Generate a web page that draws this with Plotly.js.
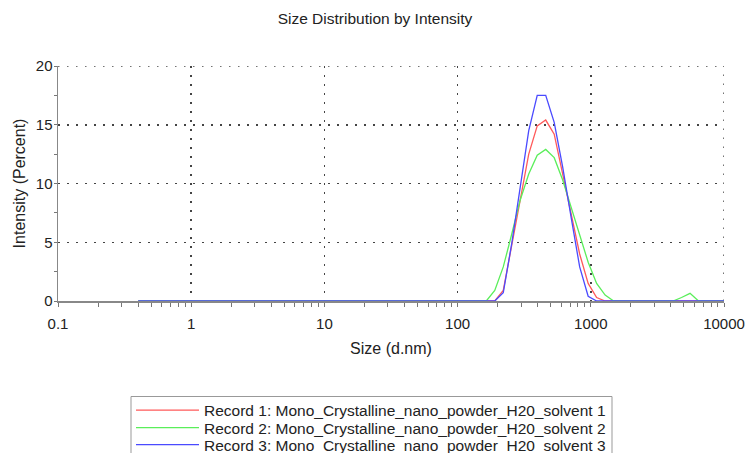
<!DOCTYPE html>
<html>
<head>
<meta charset="utf-8">
<script src="https://cdn.plot.ly/plotly-3.0.1.min.js"></script>
<style>html,body{margin:0;padding:0;background:#fff;}#chart{width:750px;height:453px;}</style>
</head>
<body>
<div id="chart"></div>
<script>
// Size bins (d.nm)
const sizeBins = [0.4, 0.4632, 0.5365, 0.6213, 0.7195, 0.8332, 0.9649, 1.117, 1.294, 1.499,
  1.736, 2.010, 2.328, 2.696, 3.122, 3.615, 4.187, 4.849, 5.615, 6.503,
  7.531, 8.721, 10.10, 11.70, 13.54, 15.69, 18.17, 21.04, 24.36, 28.21,
  32.67, 37.84, 43.82, 50.75, 58.77, 68.06, 78.82, 91.28, 105.7, 122.4,
  141.8, 164.2, 190.1, 220.2, 255.0, 295.3, 342.0, 396.1, 458.7, 531.2,
  615.1, 712.4, 825.0, 955.4, 1106, 1281, 1484, 1718, 1990, 2305,
  2669, 3091, 3580, 4145, 4801, 5560, 6439, 7456, 8635, 10000];

const record1 = [0,0,0,0,0,0,0,0,0,0, 0,0,0,0,0,0,0,0,0,0, 0,0,0,0,0,0,0,0,0,0,
  0,0,0,0,0,0,0,0,0,0, 0,0,0,0.9,4.6,8.6,12.5,14.9,15.4,14.2,
  10.8,7.4,4.0,1.5,0.3,0,0,0,0,0, 0,0,0,0,0,0,0,0,0,0];

const record2 = [0,0,0,0,0,0,0,0,0,0, 0,0,0,0,0,0,0,0,0,0, 0,0,0,0,0,0,0,0,0,0,
  0,0,0,0,0,0,0,0,0,0, 0,0,0.9,2.9,5.7,8.6,10.8,12.4,12.9,12.2,
  10.3,8.0,5.5,3.3,1.5,0.5,0,0,0,0, 0,0,0,0,0.3,0.65,0,0,0,0];

const record3 = [0,0,0,0,0,0,0,0,0,0, 0,0,0,0,0,0,0,0,0,0, 0,0,0,0,0,0,0,0,0,0,
  0,0,0,0,0,0,0,0,0,0, 0,0,0,0.7,4.9,9.7,14.5,17.5,17.5,15.2,
  11.4,7.1,2.9,0.4,0,0,0,0,0,0, 0,0,0,0,0,0,0,0,0,0];

const seriesNames = [
  "Record 1: Mono_Crystalline_nano_powder_H20_solvent 1",
  "Record 2: Mono_Crystalline_nano_powder_H20_solvent 2",
  "Record 3: Mono_Crystalline_nano_powder_H20_solvent 3"
];
const yMax = 20;
const xMax = 10000;

const colors = ["#ff5a5a", "#5aee5a", "#4a4aff"];
const seriesData = [record1, record2, record3];
const legendIds = ["legend", "legend2", "legend3"];

// pixel helpers for placing decorations (plot area 58..724 x 66..301)
const PL = 58, PR = 724, PT = 66, PB = 301;
const px2paperX = p => (p - PL) / (PR - PL);
const px2paperY = p => (PB - p) / (PB - PT);

const traces = seriesData.map((vals, i) => ({
  x: sizeBins, y: vals, type: "scatter", mode: "lines",
  name: seriesNames[i], legend: legendIds[i],
  line: {color: colors[i], width: 1.3}
}));

const font = {family: "Liberation Sans, Arial, sans-serif", color: "#222"};
const gridStyle = {color: "#444", width: 1.5, dash: "1.5px,7.5px"};
const legendRowsY = [410.5, 428, 445];
function legendAt(rowY) {
  return {x: px2paperX(131), y: px2paperY(rowY), xanchor: "left", yanchor: "middle",
    borderwidth: 0, bgcolor: "rgba(0,0,0,0)", itemwidth: 63, tracegroupgap: 0,
    font: Object.assign({}, font, {size: 15.5})};
}
const layout = {
  width: 750, height: 453,
  margin: {l: PL, r: 750 - PR, t: PT, b: 453 - PB, autoexpand: false},
  paper_bgcolor: "#fff", plot_bgcolor: "#fff",
  font: Object.assign({size: 15}, font),
  title: {text: "Size Distribution by Intensity", font: Object.assign({}, font, {size: 15.5}),
    x: 0.5, xanchor: "center", y: 1 - 19/453, yanchor: "middle", yref: "container"},
  showlegend: true,
  legend: legendAt(legendRowsY[0]),
  legend2: legendAt(legendRowsY[1]),
  legend3: legendAt(legendRowsY[2]),
  xaxis: {
    type: "log", range: [-1, 4], automargin: false, layer: "below traces",
    tickmode: "linear", tick0: 0, dtick: 1, tickformat: "~g",
    ticks: "outside", ticklen: 4, tickcolor: "#777", ticklabelstandoff: 4,
    tickfont: Object.assign({}, font, {size: 15}),
    showline: true, linecolor: "#888", linewidth: 1.5,
    showgrid: true, gridcolor: gridStyle.color, gridwidth: gridStyle.width, griddash: gridStyle.dash,
    zeroline: false,
    minor: {dtick: "D1", ticks: "outside", ticklen: 4, tickcolor: "#777", showgrid: false},
    title: {text: "Size (d.nm)", font: Object.assign({}, font, {size: 16}), standoff: 12}
  },
  yaxis: {
    range: [0, yMax], automargin: false, layer: "below traces",
    tickmode: "linear", tick0: 0, dtick: 5,
    ticks: "outside", ticklen: 3, tickcolor: "#777", ticklabelstandoff: -2,
    tickfont: Object.assign({}, font, {size: 15}),
    showline: true, linecolor: "#888", linewidth: 1.5,
    showgrid: true, gridcolor: gridStyle.color, gridwidth: gridStyle.width, griddash: gridStyle.dash,
    zeroline: false,
    minor: {dtick: 2.5, ticks: "outside", ticklen: 3, tickcolor: "#777", showgrid: false},
    title: {text: "Intensity (Percent)", font: Object.assign({}, font, {size: 16}), standoff: 6}
  },
  shapes: [
    {type: "line", layer: "below", xref: "paper", x0: 0, x1: 1, yref: "y", y0: yMax, y1: yMax, line: gridStyle},
    {type: "line", layer: "below", xref: "x", x0: xMax, x1: xMax, yref: "paper", y0: 0, y1: 1, line: gridStyle},
    // legend frame
    {type: "rect", xref: "paper", yref: "paper",
      x0: px2paperX(131), x1: px2paperX(612), y0: px2paperY(396.5), y1: px2paperY(470),
      line: {color: "#999", width: 1}, fillcolor: "rgba(0,0,0,0)"}
  ]
};
Plotly.newPlot("chart", traces, layout, {displayModeBar: false, staticPlot: true});
</script>
</body>
</html>
